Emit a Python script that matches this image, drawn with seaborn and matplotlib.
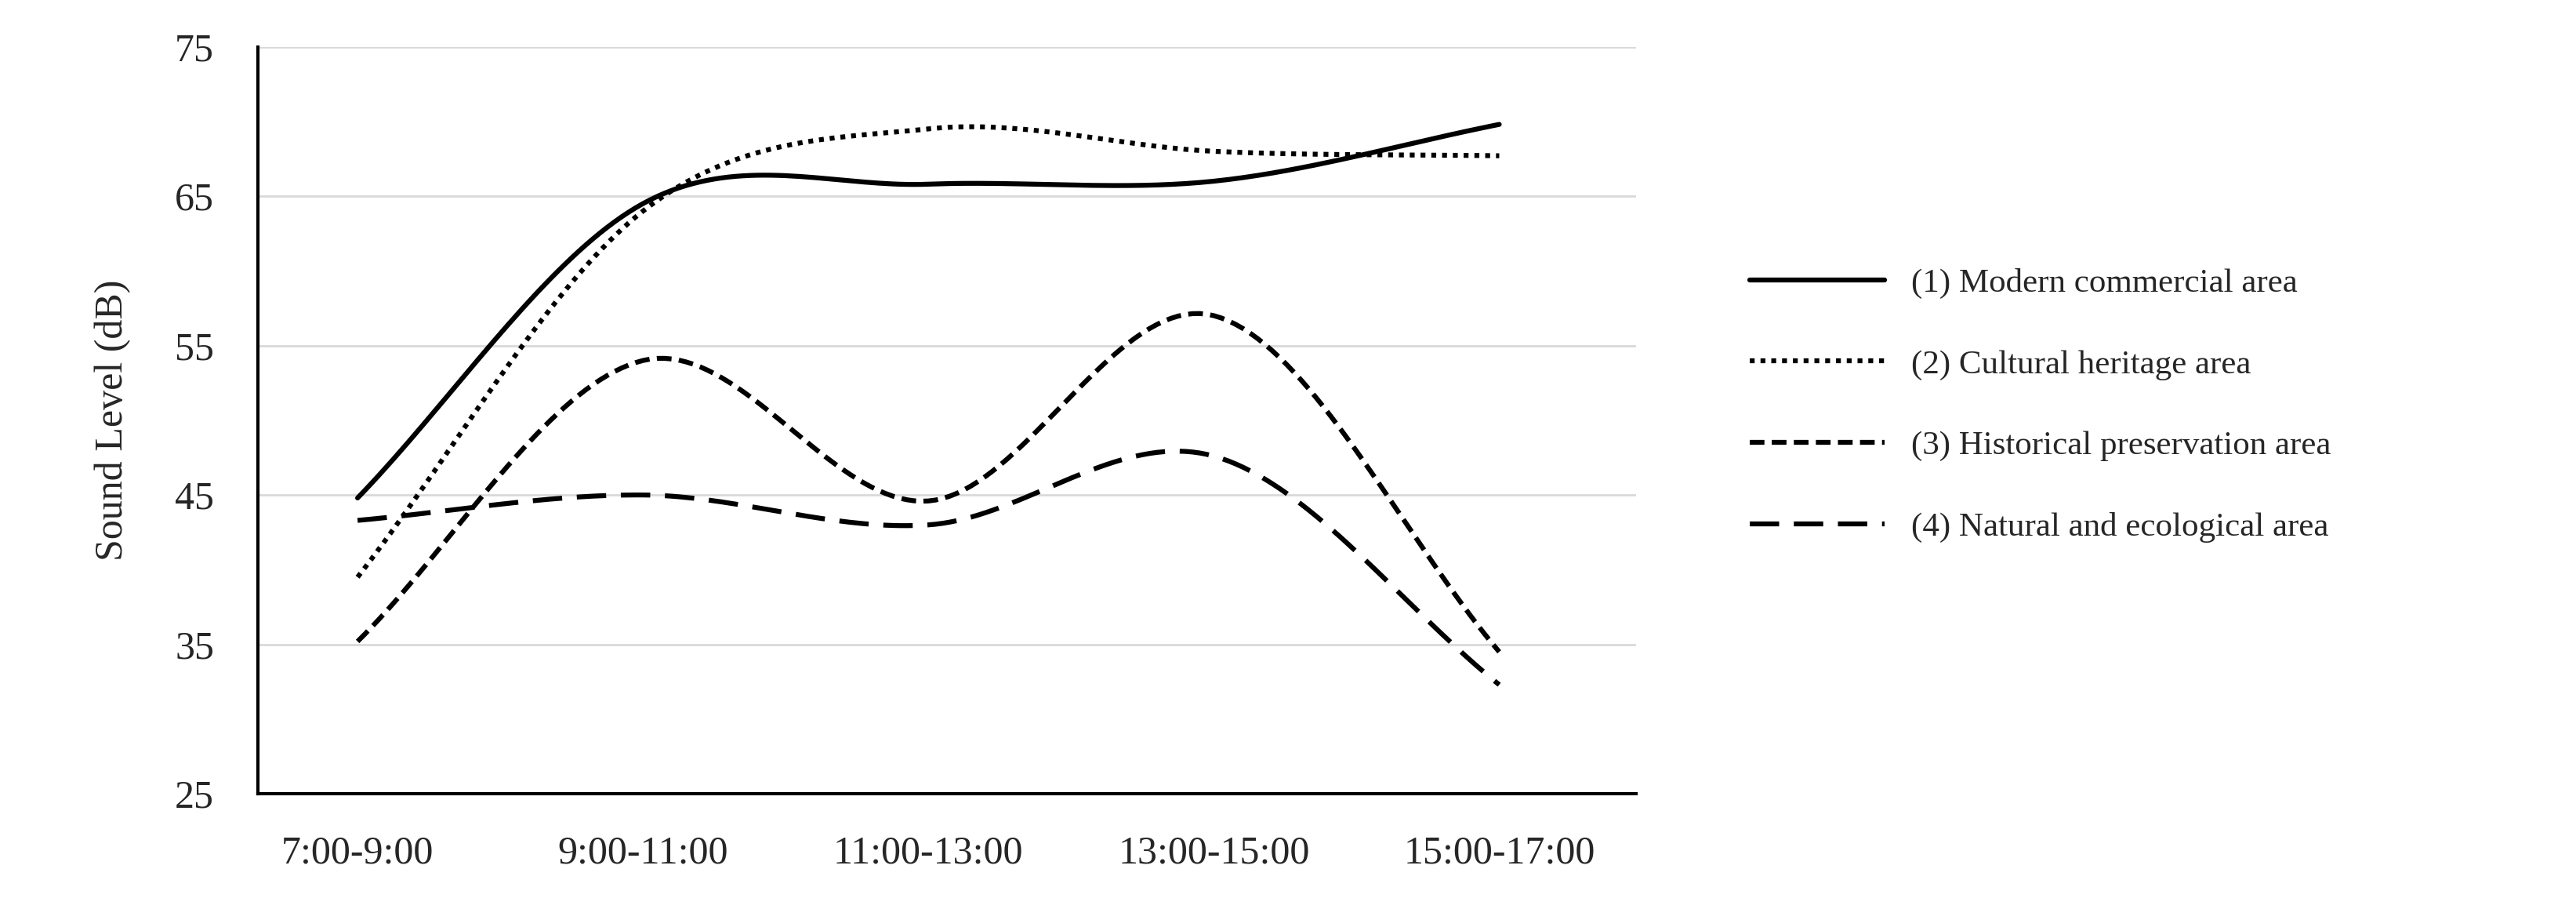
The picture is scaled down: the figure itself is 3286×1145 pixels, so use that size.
import numpy as np
import pandas as pd
import seaborn as sns
import matplotlib.pyplot as plt

periods = ['7:00-9:00', '9:00-11:00', '11:00-13:00', '13:00-15:00', '15:00-17:00']
modern = [44.8, 64.5, 65.8, 66.0, 69.8]
cultural = [39.5, 64.0, 69.5, 68.0, 67.7]
historical = [35.2, 54.0, 44.6, 57.0, 34.5]
natural = [43.3, 45.0, 43.0, 47.6, 32.3]

series = {
    '(1) Modern commercial area': modern,
    '(2) Cultural heritage area': cultural,
    '(3) Historical preservation area': historical,
    '(4) Natural and ecological area': natural,
}
dashes = [(None, None), (1, 1.2), (3, 1.5), (6, 3)]


def smooth(y, n=40):
    # Catmull-Rom style smoothing like Excel "smoothed line"
    y = np.asarray(y, float)
    x = np.arange(len(y), dtype=float)
    px = np.concatenate([[2 * x[0] - x[1]], x, [2 * x[-1] - x[-2]]])
    py = np.concatenate([[2 * y[0] - y[1]], y, [2 * y[-1] - y[-2]]])
    xs, ys = [], []
    for i in range(1, len(px) - 2):
        t = np.linspace(0, 1, n, endpoint=(i == len(px) - 3))
        for arr, out in ((px, xs), (py, ys)):
            p0, p1, p2, p3 = arr[i - 1:i + 3]
            out.append(0.5 * (2 * p1 + (-p0 + p2) * t + (2 * p0 - 5 * p1 + 4 * p2 - p3) * t ** 2
                              + (-p0 + 3 * p1 - 3 * p2 + p3) * t ** 3))
    return np.concatenate(xs), np.concatenate(ys)


frames = []
for name, vals in series.items():
    sx, sy = smooth(vals)
    frames.append(pd.DataFrame({'x': sx, 'y': sy, 'area': name}))
df = pd.concat(frames)

sns.set_style('white')
plt.rcParams['font.family'] = ['Liberation Serif', 'DejaVu Serif']

fig = plt.figure(figsize=(32.87, 11.45), dpi=100)
ax = fig.add_axes([0.10, 0.116, 0.535, 0.832])
sns.lineplot(data=df, x='x', y='y', hue='area', style='area',
             palette=['black'] * 4, dashes=dashes, linewidth=4.5, ax=ax, sort=False)

ax.set_xlim(-0.35, 4.48)
ax.set_ylim(25, 75)
ax.set_yticks([25, 35, 45, 55, 65, 75])
ax.set_xticks(range(len(periods)))
ax.set_xticklabels(periods)
ax.tick_params(labelsize=36, length=0)
ax.tick_params(axis='y', pad=40)
ax.tick_params(axis='x', pad=38)
ax.yaxis.grid(True, color='#d9d9d9', linewidth=2)
for s in ['top', 'right']:
    ax.spines[s].set_visible(False)
for s in ['left', 'bottom']:
    ax.spines[s].set_color('black')
    ax.spines[s].set_linewidth(3)
ax.set_xlabel('')
ax.set_ylabel('Sound Level (dB)', fontsize=36, labelpad=40)

ax.legend(loc='center left', bbox_to_anchor=(1.06, 0.52), frameon=False,
          fontsize=31, handlelength=4, labelspacing=1.5)

fig.savefig('out.png', dpi=100)
